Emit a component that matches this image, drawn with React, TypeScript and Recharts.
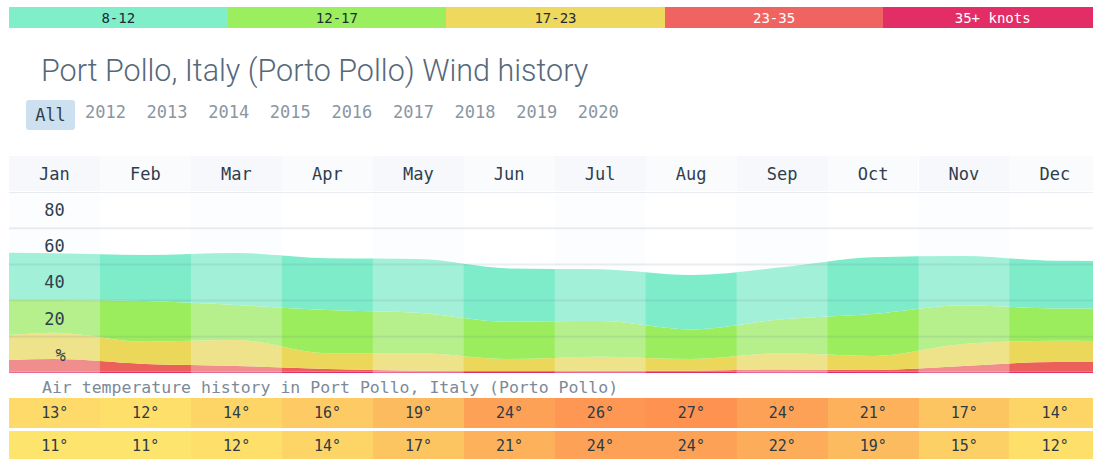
import { ComposedChart, Area, XAxis, YAxis, ReferenceArea, ReferenceLine } from 'recharts'

const speedBands = ['8-12', '12-17', '17-23', '23-35', '35+ knots']
const years = ['2012', '2013', '2014', '2015', '2016', '2017', '2018', '2019', '2020']
const months = ['Jan', 'Feb', 'Mar', 'Apr', 'May', 'Jun', 'Jul', 'Aug', 'Sep', 'Oct', 'Nov', 'Dec']

// left edge, month centres, right edge
const xPos = [0, 0.5, 1.5, 2.5, 3.5, 4.5, 5.5, 6.5, 7.5, 8.5, 9.5, 10.5, 11.5, 12]
const pct35 = [0.8, 0.8, 0.8, 0.8, 0.8, 0.8, 0.8, 0.8, 0.8, 0.8, 0.8, 0.8, 0.8, 0.8]
const pct23 = [6.4, 6.9, 4.2, 3.1, 1.4, 0.5, 0.3, 0.5, 0.5, 1.2, 0.9, 3.1, 5.3, 5.3]
const pct17 = [13.8, 14.6, 12.3, 14.3, 8.7, 9.6, 6.6, 7.7, 6.4, 8.9, 7.7, 12.1, 11.7, 11.6]
const pct12 = [19.3, 18.0, 22.5, 19.4, 23.9, 22.4, 20.6, 19.7, 16.4, 18.8, 23.2, 21.4, 17.9, 18.0]
const pct8 = [26.2, 25.8, 25.4, 28.7, 28.6, 29.7, 29.5, 28.6, 30.0, 28.7, 31.3, 27.2, 26.3, 26.2]

const yTicks = [10, 30, 50, 70, 90]
const yTickLabels = ['%', '20', '40', '60', '80']

const tempHigh = [13, 12, 14, 16, 19, 24, 26, 27, 24, 21, 17, 14]
const tempLow = [11, 11, 12, 14, 17, 21, 24, 24, 22, 19, 15, 12]

const BAR_COLORS = ['#80eec9', '#9bee5e', '#eed95e', '#ef6461', '#e22d66']
const BAR_TEXT = ['#1d2b38', '#1d2b38', '#1d2b38', '#ffffff', '#ffffff']
const MONO = '"DejaVu Sans Mono", monospace'
const COL_W = 90.95
const LEFT = 9

const data = xPos.map((x, i) => ({
  x,
  p35: pct35[i],
  p23: pct23[i],
  p17: pct17[i],
  p12: pct12[i],
  p8: pct8[i],
}))

function tempColor(t: number) {
  const k = Math.max(0, Math.min(1, (t - 11) / 16))
  const g = Math.round(228 - k * 82)
  const b = Math.round(108 - k * 27)
  return `rgb(253,${g},${b})`
}

function YTick(props: any) {
  const { y, payload } = props
  const label = yTickLabels[yTicks.indexOf(payload.value)]
  return (
    <text x={label === '%' ? 51.5 : 45.5} y={y} textAnchor="middle" dominantBaseline="central"
      fontFamily={MONO} fontSize={17} fill="#2f3f4e">
      {label}
    </text>
  )
}

function TempRow({ temps, top }: { temps: number[]; top: number }) {
  return (
    <>
      {temps.map((t, i) => (
        <div key={i} style={{
          position: 'absolute', left: LEFT + i * COL_W, top, width: COL_W + 0.5, height: 30,
          background: tempColor(t), display: 'flex', alignItems: 'center', justifyContent: 'center',
          fontFamily: MONO, fontSize: 15, color: '#2c3a46',
        }}>
          {t}°
        </div>
      ))}
    </>
  )
}

export default function App() {
  return (
    <div style={{ position: 'absolute', left: 0, top: 0, width: 1093, height: 459, overflow: 'hidden', background: '#fff' }}>
      {speedBands.map((b, i) => (
        <div key={b} style={{
          position: 'absolute', left: LEFT + i * 218.6, top: 7, width: 218.6, height: 21,
          background: BAR_COLORS[i], color: BAR_TEXT[i], fontFamily: MONO, fontSize: 14,
          display: 'flex', alignItems: 'center', justifyContent: 'center',
        }}>
          {b}
        </div>
      ))}

      <div style={{
        position: 'absolute', left: 41, top: 53, fontFamily: 'Roboto, sans-serif', fontWeight: 300,
        fontSize: 30.5, lineHeight: '36px', color: '#56687a', whiteSpace: 'nowrap',
      }}>
        Port Pollo, Italy (Porto Pollo) Wind history
      </div>

      <div style={{
        position: 'absolute', left: 26, top: 100, width: 49, height: 30, background: '#cde0ef', borderRadius: 3,
        display: 'flex', alignItems: 'center', justifyContent: 'center', fontFamily: MONO, fontSize: 17, color: '#2d3d4c',
      }}>
        All
      </div>
      {years.map((y, i) => (
        <div key={y} style={{
          position: 'absolute', left: 85 + i * 61.6, top: 99, height: 25, display: 'flex', alignItems: 'center',
          fontFamily: MONO, fontSize: 17, color: '#8a96a2',
        }}>
          {y}
        </div>
      ))}

      {months.map((m, i) => (
        <div key={m} style={{
          position: 'absolute', left: LEFT + i * COL_W, top: 156, width: COL_W, height: 35,
          background: i % 2 === 0 ? '#f6f8fb' : '#fafbfd', display: 'flex', alignItems: 'center', justifyContent: 'center',
          fontFamily: MONO, fontSize: 17, color: '#2f3e4d',
        }}>
          {m}
        </div>
      ))}

      <div style={{ position: 'absolute', left: LEFT, top: 192 }}>
        <ComposedChart width={COL_W * 12} height={181} data={data} margin={{ top: 0, right: 0, bottom: 0, left: 0 }}>
          <XAxis dataKey="x" type="number" domain={[0, 12]} hide />
          <Area type="monotone" dataKey="p35" stackId="w" stroke="none" fill="#e22d66" fillOpacity={1} isAnimationActive={false} />
          <Area type="monotone" dataKey="p23" stackId="w" stroke="none" fill="#ec605c" fillOpacity={1} isAnimationActive={false} />
          <Area type="monotone" dataKey="p17" stackId="w" stroke="none" fill="#ebd85a" fillOpacity={1} isAnimationActive={false} />
          <Area type="monotone" dataKey="p12" stackId="w" stroke="none" fill="#9bed5d" fillOpacity={1} isAnimationActive={false} />
          <Area type="monotone" dataKey="p8" stackId="w" stroke="none" fill="#7eecc9" fillOpacity={1} isAnimationActive={false} />
          {months.map((m, i) =>
            i % 2 === 0 ? (
              <ReferenceArea key={m} x1={i} x2={i + 1} y1={0} y2={100} fill="#f5f8fc" fillOpacity={0.3} stroke="none" />
            ) : null
          )}
          {[20, 40, 60, 80, 100].map((v) => (
            <ReferenceLine key={v} y={v} stroke="#5a7590" strokeOpacity={0.13} strokeWidth={2} />
          ))}
          <YAxis type="number" domain={[0, 100]} ticks={yTicks} mirror
            axisLine={false} tickLine={false} tick={(p: any) => <YTick {...p} />} />
        </ComposedChart>
      </div>

      <div style={{
        position: 'absolute', left: 42, top: 377, height: 20, display: 'flex', alignItems: 'center',
        fontFamily: MONO, fontSize: 16.5, color: '#7b8a98', whiteSpace: 'nowrap',
      }}>
        Air temperature history in Port Pollo, Italy (Porto Pollo)
      </div>

      <TempRow temps={tempHigh} top={398} />
      <TempRow temps={tempLow} top={431} />
    </div>
  )
}
